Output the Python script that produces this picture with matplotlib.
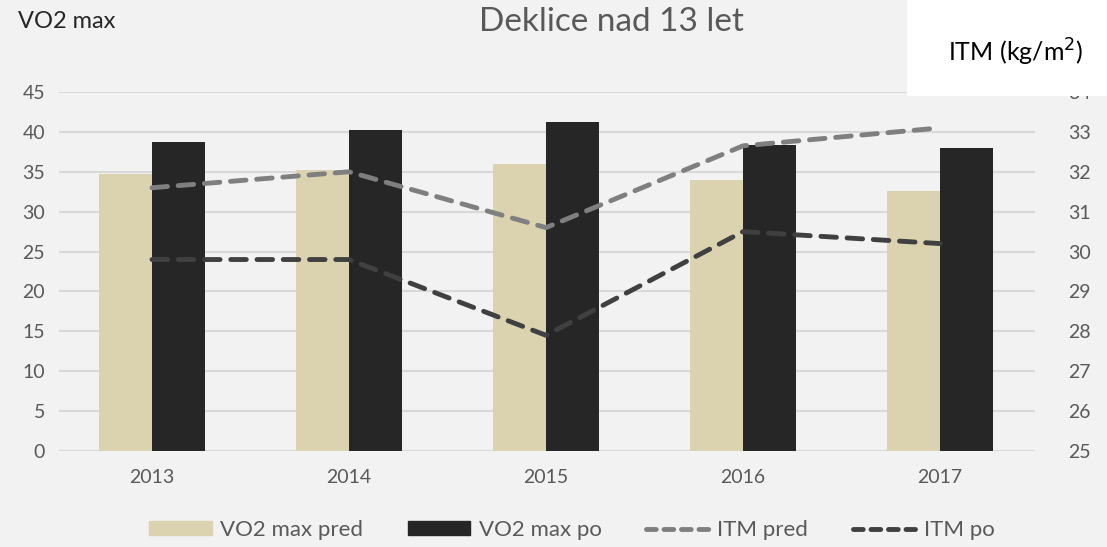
import numpy as np
import matplotlib.pyplot as plt
from matplotlib.patches import Rectangle
from matplotlib.lines import Line2D

# podatki
leta = ["2013", "2014", "2015", "2016", "2017"]
vo2_pred = [34.7, 35.2, 36.0, 34.0, 32.6]
vo2_po = [38.7, 40.2, 41.3, 38.3, 38.0]
itm_pred = [31.6, 32.0, 30.6, 32.65, 33.1]
itm_po = [29.8, 29.8, 27.9, 30.5, 30.2]

bg = "#F2F2F2"
txt = "#595959"
c_pred = "#DBD3B0"
c_po = "#262626"
c_itm_pred = "#7F7F7F"
c_itm_po = "#404040"

plt.rcParams['font.family'] = ['Lato', 'DejaVu Sans']

fig = plt.figure(figsize=(11.07, 5.47), dpi=100, facecolor=bg)
ax = fig.add_axes([59/1107, 1-451/547, (1035-59)/1107, (451-92)/547])
ax.set_facecolor(bg)

x = np.arange(len(leta))
w = 0.27
ax.bar(x - w/2, vo2_pred, w, color=c_pred, zorder=2, label="VO2 max pred")
ax.bar(x + w/2, vo2_po, w, color=c_po, zorder=2, label="VO2 max po")
ax.set_ylim(0, 45)
ax.set_yticks(np.arange(0, 46, 5))
ax.set_xlim(-0.472, 4.482)
ax.set_xticks(x)
ax.set_xticklabels(leta)
ax.grid(axis='y', color="#D9D9D9", linewidth=1.5, zorder=0)
ax.set_axisbelow(True)
for s in ax.spines.values():
    s.set_visible(False)
ax.tick_params(axis='both', length=0, labelsize=14, colors=txt)
ax.tick_params(axis='x', pad=13)
ax.tick_params(axis='y', pad=10)

ax2 = ax.twinx()
ax2.plot(x, itm_pred, color=c_itm_pred, linewidth=3.5, dashes=(3.2, 2.2),
         dash_capstyle='round', zorder=3, label="ITM pred")
ax2.plot(x, itm_po, color=c_itm_po, linewidth=3.5, dashes=(3.2, 2.2),
         dash_capstyle='round', zorder=3, label="ITM po")
ax2.set_ylim(25, 34)
ax2.set_yticks(np.arange(25, 35, 1))
for s in ax2.spines.values():
    s.set_visible(False)
ax2.tick_params(axis='y', length=0, labelsize=14, colors=txt, pad=24)

# naslovi
fig.text(611/1107, 1-22/547, "Deklice nad 13 let", ha='center', va='center',
         fontsize=24, color=txt)
fig.text(18/1107, 1-22/547, "VO2 max", ha='left', va='center',
         fontsize=17, color="#262626")

# beli okvir z enoto
fig.patches.append(Rectangle((907/1107, 1-96/547), 200/1107, 96/547,
                             transform=fig.transFigure, facecolor='white',
                             edgecolor='none', zorder=5))
fig.text(1016/1107, 1-52/547, "ITM (kg/m$^2$)", ha='center', va='center',
         fontsize=18, color="black", zorder=6)

# legenda
handles = [Rectangle((0, 0), 1, 1, color=c_pred),
           Rectangle((0, 0), 1, 1, color=c_po),
           Line2D([], [], color=c_itm_pred, linewidth=3.5, dashes=(2.0, 1.6),
                  dash_capstyle='round'),
           Line2D([], [], color=c_itm_po, linewidth=3.5, dashes=(2.0, 1.6),
                  dash_capstyle='round')]
labels = ["VO2 max pred", "VO2 max po", "ITM pred", "ITM po"]
fig.legend(handles, labels, loc='center', bbox_to_anchor=(572/1107, 1-530/547),
           ncol=4, frameon=False, fontsize=16, labelcolor=txt,
           handlelength=2.8, handleheight=0.6, handletextpad=0.4, columnspacing=2.0)

fig.savefig("out.png", dpi=100, facecolor=bg)
